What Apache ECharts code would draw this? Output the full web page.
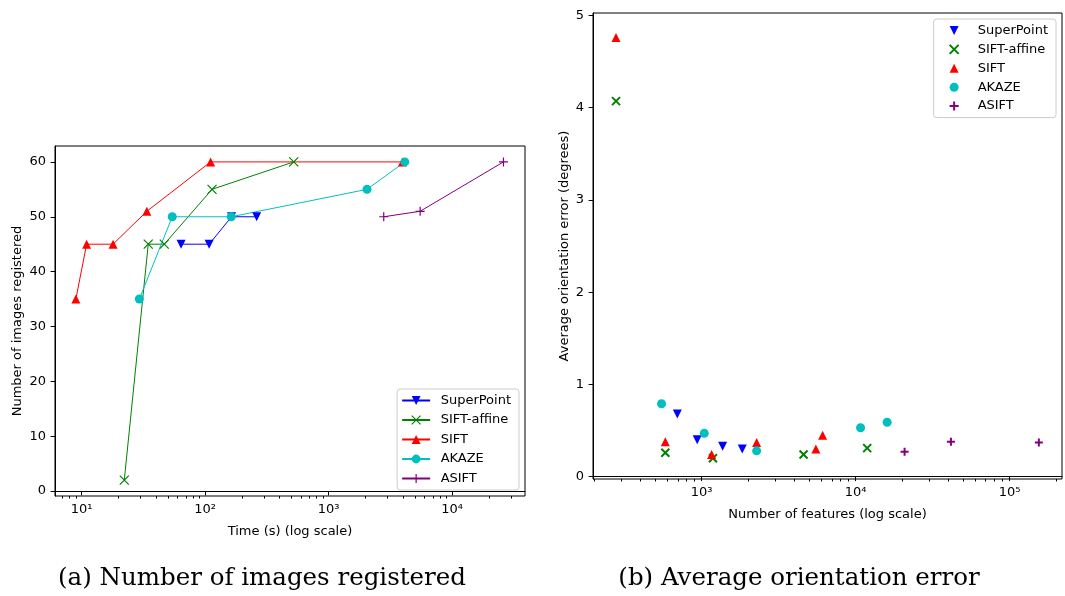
<!DOCTYPE html>
<html>
<head>
<meta charset="utf-8">
<script src="https://cdn.jsdelivr.net/npm/echarts@6/dist/echarts.min.js"></script>
<style>html,body{margin:0;padding:0;background:#fff}#c{width:1065px;height:596px}</style>
</head>
<body>
<div id="c"></div>
<script>
// ---------- data: (a) number of images registered vs time ----------
const superPointTime  = [64, 108, 164, 262];
const superPointCount = [45, 45, 50, 50];
const siftAffineTime  = [22.2, 34.7, 46.8, 114, 523];
const siftAffineCount = [2, 45, 45, 55, 60];
const siftTime        = [9.0, 11.0, 18.0, 33.8, 111, 3970];
const siftCount       = [35, 45, 45, 51, 60, 60];
const akazeTime       = [29.4, 54.3, 163, 2050, 4150];
const akazeCount      = [35, 50, 50, 55, 60];
const asiftTime       = [2800, 5520, 26100];
const asiftCount      = [50, 51, 60];

// ---------- data: (b) average orientation error vs number of features ----------
const superPointFeat = [695, 936, 1369, 1836];
const superPointErr  = [0.68, 0.40, 0.33, 0.30];
const siftAffineFeat = [278, 581, 1184, 4592, 11890];
const siftAffineErr  = [4.07, 0.26, 0.20, 0.24, 0.31];
const siftFeat       = [278, 581, 1161, 2276, 5520, 6105];
const siftErr        = [4.76, 0.38, 0.24, 0.37, 0.30, 0.45];
const akazeFeat      = [549, 1040, 2276, 10770, 16030];
const akazeErr       = [0.79, 0.47, 0.28, 0.53, 0.59];
const asiftFeat      = [20800, 41600, 154900];
const asiftErr       = [0.27, 0.38, 0.37];

// ---------- ticks ----------
const timeTicks = [10, 100, 1000, 10000];
const timeMinorTicks = [7, 8, 9, 20, 30, 40, 50, 60, 70, 80, 90,
  200, 300, 400, 500, 600, 700, 800, 900,
  2000, 3000, 4000, 5000, 6000, 7000, 8000, 9000, 20000, 30000];
const countTicks = [0, 10, 20, 30, 40, 50, 60];
const featureTicks = [1000, 10000, 100000];
const featureMinorTicks = [200, 300, 400, 500, 600, 700, 800, 900,
  2000, 3000, 4000, 5000, 6000, 7000, 8000, 9000,
  20000, 30000, 40000, 50000, 60000, 70000, 80000, 90000, 200000];
const errorTicks = [0, 1, 2, 3, 4, 5];

const methodNames = ['SuperPoint', 'SIFT-affine', 'SIFT', 'AKAZE', 'ASIFT'];
const captionA = '(a) Number of images registered';
const captionB = '(b) Average orientation error';

// ---------- styles ----------
const FONT = 'DejaVu Sans';
const FS = 13;
const colors = {SuperPoint: '#0000ff', 'SIFT-affine': '#008000', SIFT: '#ff0000', AKAZE: '#00bfbf', ASIFT: '#800080'};
const X_PATH = 'path://M0,0L10,10M10,0L0,10';
const PLUS_PATH = 'path://M5,0L5,10M0,5L10,5';
const DOWN_TRI = 'path://M0,0L10,0L5,10Z';
const symbols = {
  SuperPoint: {symbol: 'triangle', rotate: 180, stroke: false, icon: DOWN_TRI},
  'SIFT-affine': {symbol: X_PATH, rotate: 0, stroke: true, icon: X_PATH},
  SIFT: {symbol: 'triangle', rotate: 0, stroke: false, icon: 'triangle'},
  AKAZE: {symbol: 'circle', rotate: 0, stroke: false, icon: 'circle'},
  ASIFT: {symbol: PLUS_PATH, rotate: 0, stroke: true, icon: PLUS_PATH}
};
const SUP = ['\u2070', '\u00b9', '\u00b2', '\u00b3', '\u2074', '\u2075'];
const logFmt = v => '10' + SUP[Math.round(Math.log10(v))];
const zip = (a, b) => a.map((v, i) => [v, b[i]]);

const leftData = {
  SuperPoint: zip(superPointTime, superPointCount),
  'SIFT-affine': zip(siftAffineTime, siftAffineCount),
  SIFT: zip(siftTime, siftCount),
  AKAZE: zip(akazeTime, akazeCount),
  ASIFT: zip(asiftTime, asiftCount)
};
const rightData = {
  SuperPoint: zip(superPointFeat, superPointErr),
  'SIFT-affine': zip(siftAffineFeat, siftAffineErr),
  SIFT: zip(siftFeat, siftErr),
  AKAZE: zip(akazeFeat, akazeErr),
  ASIFT: zip(asiftFeat, asiftErr)
};
const SUFFIX = ' (b)';

const series = [];
methodNames.forEach(n => {
  const s = symbols[n], c = colors[n];
  series.push({
    type: 'line', name: n, xAxisIndex: 0, yAxisIndex: 0,
    data: leftData[n], symbol: s.symbol, symbolRotate: s.rotate, symbolSize: 9,
    symbolKeepAspect: true,
    lineStyle: {color: c, width: 1},
    itemStyle: {color: c, borderColor: c, borderWidth: s.stroke ? 1.2 : 0},
    emphasis: {disabled: true}, z: 3
  });
});
methodNames.forEach(n => {
  const s = symbols[n], c = colors[n];
  series.push({
    type: 'scatter', name: n + SUFFIX, xAxisIndex: 2, yAxisIndex: 1,
    data: rightData[n], symbol: s.symbol, symbolRotate: s.rotate, symbolSize: s.stroke ? 8 : 9,
    symbolKeepAspect: true,
    itemStyle: {color: c, borderColor: c, borderWidth: s.stroke ? 2 : 0, opacity: 1},
    emphasis: {disabled: true}, z: 3
  });
});

const labelStyle = {color: '#000', fontSize: FS, fontFamily: FONT};
const tickLine = {color: '#000', width: 1};

function logAxis(grid, min, max, major, name, gap) {
  return {
    type: 'log', logBase: 10, gridIndex: grid, min: min, max: max, position: 'bottom',
    name: name, nameLocation: 'middle', nameGap: gap,
    nameTextStyle: {color: '#000', fontSize: FS, fontFamily: FONT},
    axisLine: {show: true, lineStyle: {color: '#000', width: 1}},
    axisTick: {show: true, customValues: major, length: 4.4, inside: false, lineStyle: tickLine},
    axisLabel: Object.assign({customValues: major, formatter: logFmt, margin: 7.5}, labelStyle),
    splitLine: {show: false}, minorTick: {show: false}
  };
}
function minorAxis(grid, min, max, minor) {
  return {
    type: 'log', logBase: 10, gridIndex: grid, min: min, max: max, position: 'bottom',
    axisLine: {show: false},
    axisTick: {show: true, customValues: minor, length: 2.5, lineStyle: tickLine},
    axisLabel: {show: false}, splitLine: {show: false}
  };
}
function valAxis(grid, min, max, major, name, gap) {
  return {
    type: 'value', gridIndex: grid, min: min, max: max,
    name: name, nameLocation: 'middle', nameGap: gap,
    nameTextStyle: {color: '#000', fontSize: FS, fontFamily: FONT},
    axisLine: {show: true, lineStyle: {color: '#000', width: 1}},
    axisTick: {show: true, customValues: major, length: 4.4, lineStyle: tickLine},
    axisLabel: Object.assign({customValues: major, margin: 9}, labelStyle),
    splitLine: {show: false}
  };
}

const legendBase = {
  orient: 'vertical', backgroundColor: 'rgba(255,255,255,0.8)', borderColor: '#cccccc',
  borderWidth: 1, borderRadius: 3, selectedMode: false
};

const option = {
  animation: false,
  textStyle: {fontFamily: FONT},
  grid: [
    {left: 55, top: 146, width: 470, height: 350, show: true, borderColor: '#000', borderWidth: 1,
     backgroundColor: 'transparent', containLabel: false, outerBoundsMode: 'none'},
    {left: 593, top: 13, width: 469, height: 466, show: true, borderColor: '#000', borderWidth: 1,
     backgroundColor: 'transparent', containLabel: false, outerBoundsMode: 'none'}
  ],
  xAxis: [
    logAxis(0, 6.1, 39000, timeTicks, 'Time (s) (log scale)', 29.5),
    minorAxis(0, 6.1, 39000, timeMinorTicks),
    logAxis(1, 197, 219000, featureTicks, 'Number of features (log scale)', 29.5),
    minorAxis(1, 197, 219000, featureMinorTicks)
  ],
  yAxis: [
    valAxis(0, -0.9, 62.9, countTicks, 'Number of images registered', 31),
    valAxis(1, -0.025, 5.025, errorTicks, 'Average orientation error (degrees)', 22)
  ],
  legend: [
    Object.assign({}, legendBase, {
      right: 546, bottom: 106, itemWidth: 28, itemHeight: 11, itemGap: 6.5, padding: [5, 8, 5, 4],
      symbolRotate: 'inherit',
      textStyle: {color: '#000', fontSize: FS, fontFamily: FONT, padding: [0, 0, 0, 5.5]},
      data: methodNames.map(n => ({name: n,
        itemStyle: symbols[n].stroke ? {borderWidth: 1.2} : {borderWidth: 0}}))
    }),
    Object.assign({}, legendBase, {
      right: 9, top: 19, itemWidth: 9, itemHeight: 9, itemGap: 5.9, padding: [5, 8, 5, 15],
      symbolRotate: 0,
      textStyle: {color: '#000', fontSize: FS, fontFamily: FONT, padding: [0, 0, 0, 14]},
      formatter: name => name.replace(SUFFIX, ''),
      data: methodNames.map(n => ({name: n + SUFFIX, icon: symbols[n].icon,
        itemStyle: symbols[n].stroke ? {borderWidth: 2} : {borderWidth: 0}}))
    })
  ],
  graphic: [
    {type: 'text', x: 262, y: 579, style: {text: captionA, font: '24.5px "DejaVu Serif"', fill: '#000',
      align: 'center', verticalAlign: 'middle', textAlign: 'center', textVerticalAlign: 'middle'}},
    {type: 'text', x: 799, y: 579, style: {text: captionB, font: '24.5px "DejaVu Serif"', fill: '#000',
      align: 'center', verticalAlign: 'middle', textAlign: 'center', textVerticalAlign: 'middle'}}
  ],
  series: series
};

const chart = echarts.init(document.getElementById('c'), null, {renderer: 'canvas'});
chart.setOption(option);
</script>
</body>
</html>
